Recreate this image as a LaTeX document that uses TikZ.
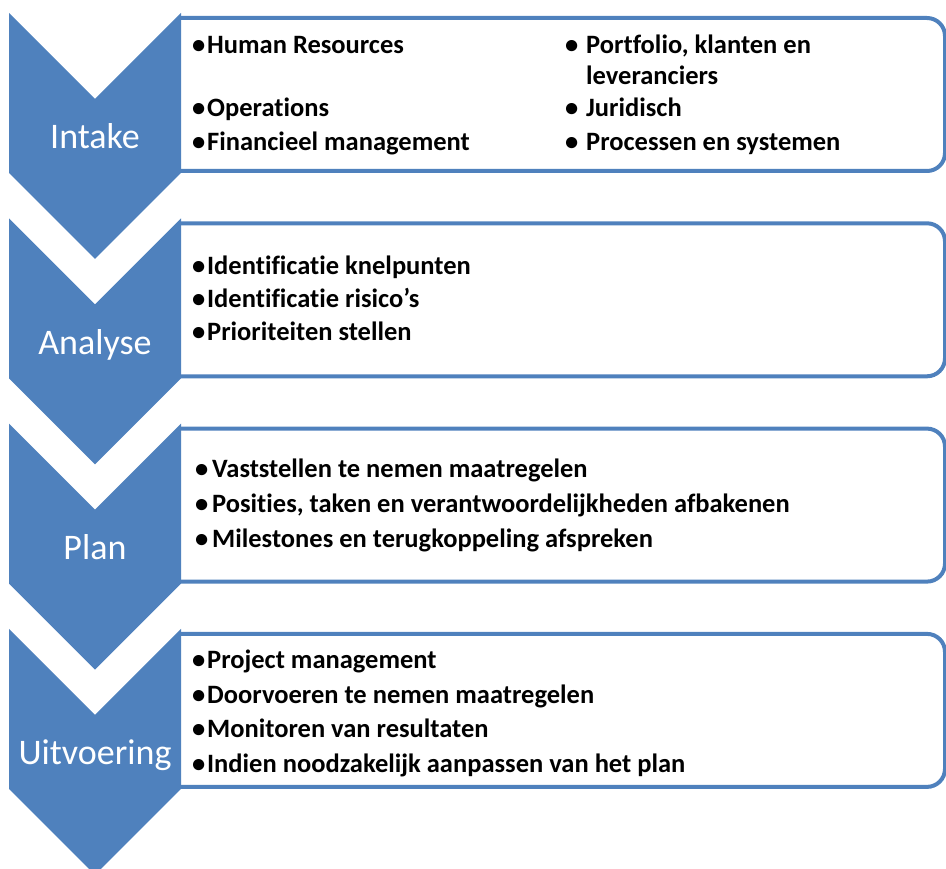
\documentclass[tikz,border=0pt]{standalone}
\usepackage{fontspec}
\setmainfont{Carlito}[Ligatures=NoCommon]
\definecolor{stepblue}{HTML}{4F81BD}
% bullet set in a fixed-width slot
\newcommand{\bulat}[1]{\makebox[#1][l]{•}}
\begin{document}
\begin{tikzpicture}[x=1pt,y=-1pt,
  chev/.style={fill=stepblue,draw=none},
  frame/.style={draw=stepblue,line width=4pt,fill=white,rounded corners=18pt},
  phase/.style={text=white,font=\fontsize{36}{40}\selectfont,anchor=base,inner sep=0pt},
  item/.style={text=black,font=\bfseries\fontsize{26.5}{30}\selectfont,anchor=base west,inner sep=0pt}]
\useasboundingbox (0,0) rectangle (946,869);

% Phase frames (open on the left, hidden behind the chevrons)
\foreach \c in {13,218.3,423.6,628.9}{
  \draw[frame] (181,\c+5) -- (945,\c+5) -- (945,\c+158) -- (181,\c+158);
}
% Chevrons
\foreach \c in {13,218.3,423.6,628.9}{
  \fill[chev] (9,\c) -- (95,\c+86) -- (181,\c) -- (181,\c+160) -- (95,\c+246) -- (9,\c+160) -- cycle;
}

% Phase labels
\node[phase] (intake) at (95,149) {Intake};
\node[phase] (analyse) at (95,354.3) {Analyse};
\node[phase] (plan) at (95,559.6) {Plan};
\node[phase] (uitvoering) at (95,764.9) {Uitvoering};

% Intake items
\node[item] (i1) at (192,54) {\bulat{15pt}Human Resources};
\node[item] (i2) at (192,117) {\bulat{15pt}Operations};
\node[item] (i3) at (192,151) {\bulat{15pt}Financieel management};
\node[item] (i4) at (565,54) {\bulat{21pt}Portfolio, klanten en};
\node[item] (i4c) at (586,85) {leveranciers};
\node[item] (i5) at (565,117) {\bulat{21pt}Juridisch};
\node[item] (i6) at (565,151) {\bulat{21pt}Processen en systemen};

% Analyse items
\node[item] (a1) at (192,275) {\bulat{15pt}Identificatie knelpunten};
\node[item] (a2) at (192,308) {\bulat{15pt}Identificatie risico’s};
\node[item] (a3) at (192,341) {\bulat{15pt}Prioriteiten stellen};

% Plan items
\node[item] (p1) at (195,477) {\bulat{17pt}Vaststellen te nemen maatregelen};
\node[item] (p2) at (195,512) {\bulat{17pt}Posities, taken en verantwoordelijkheden afbakenen};
\node[item] (p3) at (195,547) {\bulat{17pt}Milestones en terugkoppeling afspreken};

% Uitvoering items
\node[item] (u1) at (192,668) {\bulat{15pt}Project management};
\node[item] (u2) at (192,703) {\bulat{15pt}Doorvoeren te nemen maatregelen};
\node[item] (u3) at (192,737) {\bulat{15pt}Monitoren van resultaten};
\node[item] (u4) at (192,772) {\bulat{15pt}Indien noodzakelijk aanpassen van het plan};
\end{tikzpicture}
\end{document}
